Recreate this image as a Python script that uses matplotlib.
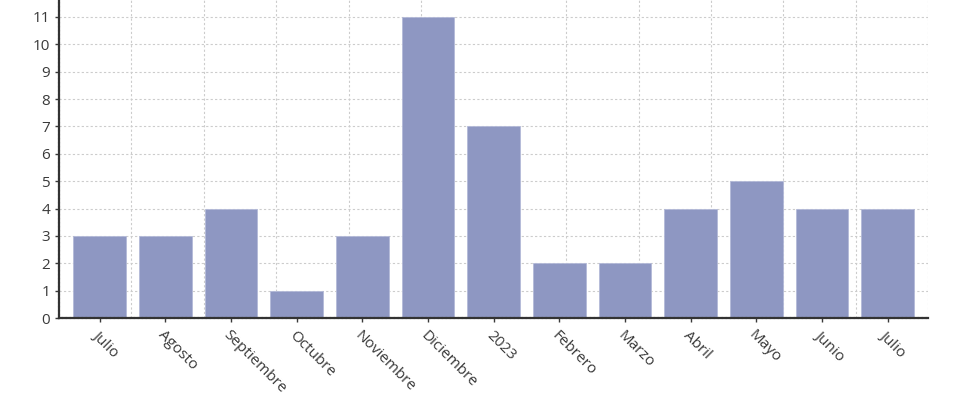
import numpy as np
import matplotlib
matplotlib.use("Agg")
import matplotlib.pyplot as plt
from matplotlib.ticker import FixedLocator

# datos
meses = ["Julio", "Agosto", "Septiembre", "Octubre", "Noviembre", "Diciembre",
         "2023", "Febrero", "Marzo", "Abril", "Mayo", "Junio", "Julio"]
valores = [3, 3, 4, 1, 3, 11, 7, 2, 2, 4, 5, 4, 4]

plt.rcParams['font.family'] = ['Open Sans', 'DejaVu Sans']

fig = plt.figure(figsize=(9.8, 4.0), dpi=100)
ax = fig.add_axes([0.0602, 0.205, 0.887, 0.795])

x = np.arange(len(meses))
ax.bar(x, valores, width=0.8, color='#8e97c2', edgecolor='#b4bad8', linewidth=0.6, zorder=2)

xmin, xmax = -0.62, 12.62
ax.set_xlim(xmin, xmax)
ax.set_ylim(0, 11.62)

ax.set_xticks(x)
ax.set_xticklabels(meses, rotation=-45, ha='left', rotation_mode='anchor')
ax.set_yticks(range(0, 12))

# rejilla vertical independiente de las categorias
ax.xaxis.set_minor_locator(FixedLocator(np.linspace(xmin, xmax, 13)[1:]))
ax.grid(True, which='minor', axis='x', color='#cccccc', linestyle=(0, (2, 2)), linewidth=0.8, zorder=0)
ax.grid(True, which='major', axis='y', color='#cccccc', linestyle=(0, (2, 2)), linewidth=0.8, zorder=0)
ax.tick_params(axis='x', which='minor', length=0)

ax.tick_params(axis='both', which='major', colors='#3a3a3a', labelsize=11, length=3, width=1)
ax.tick_params(axis='x', which='major', pad=4)

for s in ['top', 'right']:
    ax.spines[s].set_visible(False)
for s in ['left', 'bottom']:
    ax.spines[s].set_linestyle((0, (1, 0.8)))
    ax.spines[s].set_linewidth(1.6)
    ax.spines[s].set_color('#333333')

fig.savefig("out.png", dpi=100)
